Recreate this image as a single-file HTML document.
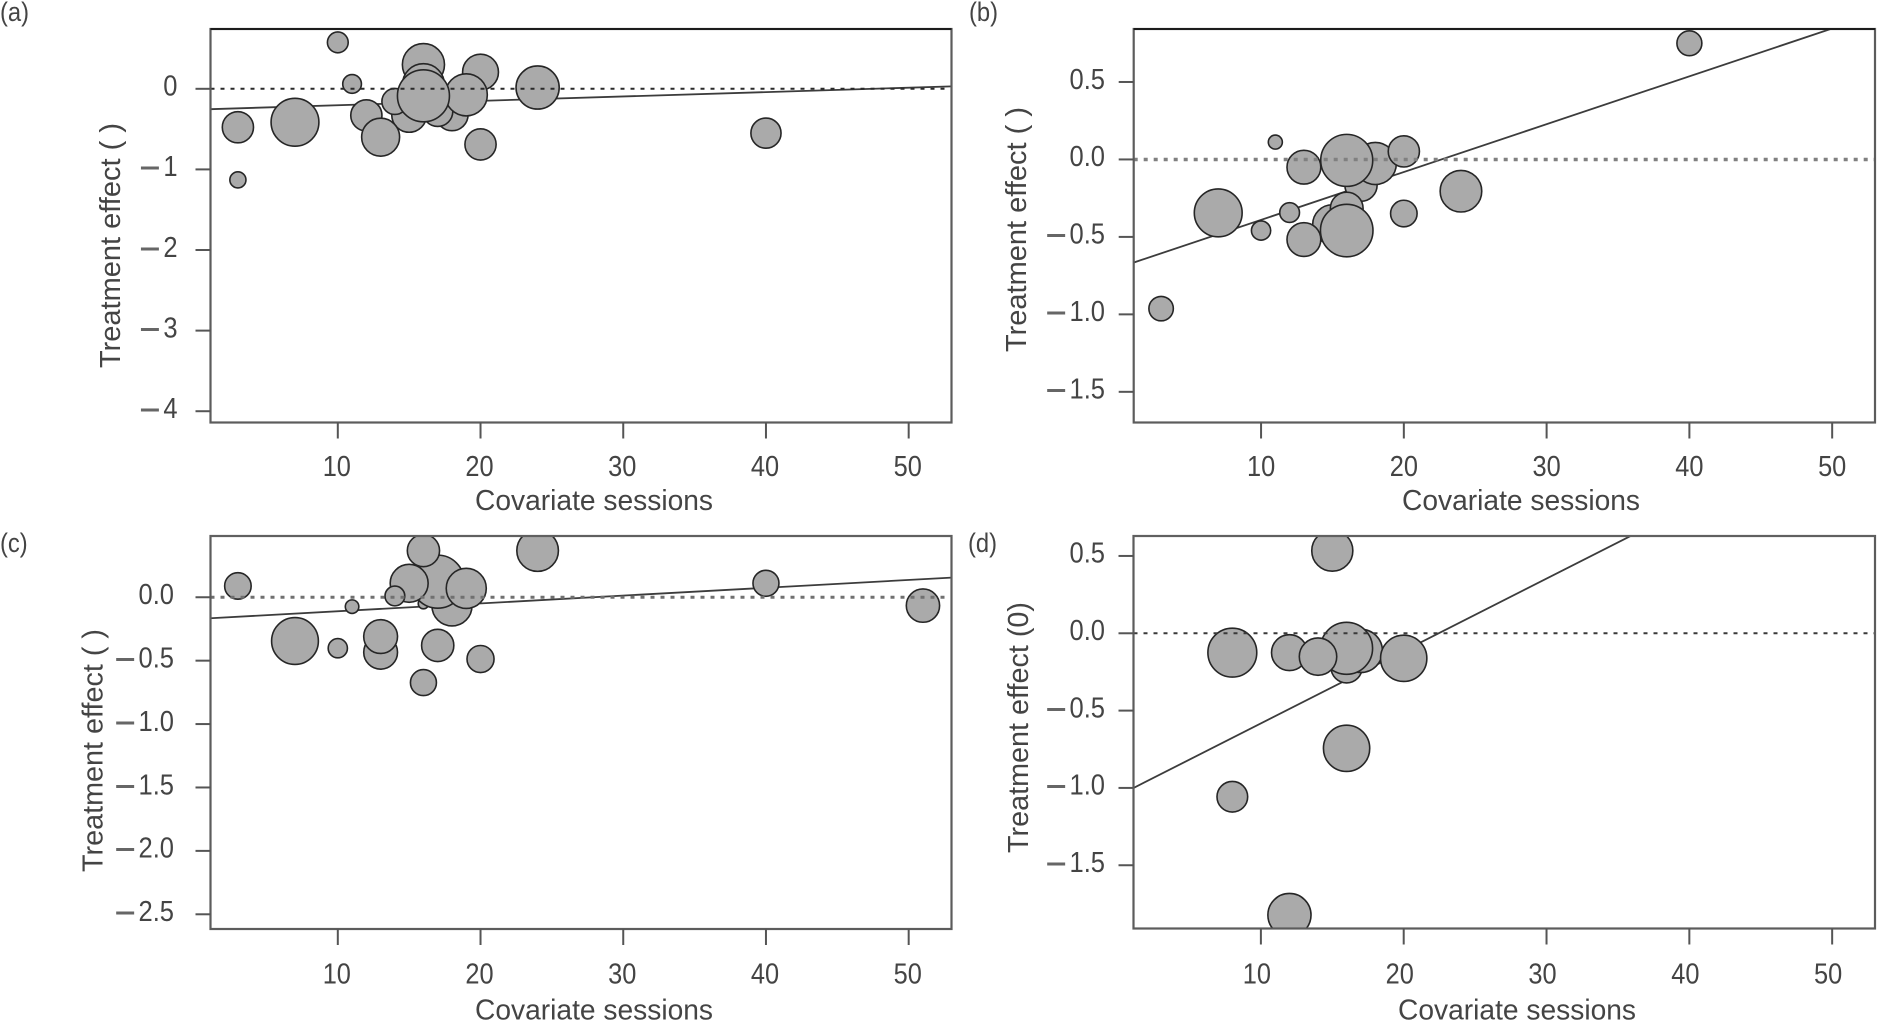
<!DOCTYPE html>
<html lang="en">
<head>
<meta charset="utf-8">
<title>Treatment effect versus covariate sessions</title>
<style>
html,body{margin:0;padding:0;background:#fff;}
svg{display:block;}
text{font-family:"Liberation Sans",sans-serif;fill:#444;}
</style>
</head>
<body>
<svg id="figure" xmlns="http://www.w3.org/2000/svg" width="1880" height="1022" viewBox="0 0 1880 1022"></svg>
<script>
/* ---------- panel (a) data ---------- */
const panelASessions = [3,3,7,10,11,40,24,20,20,12,15,14,13,18,17,16,16,19,16];
const panelAEffects = [-1.13,-0.477,-0.415,0.576,0.06,-0.55,0.016,-0.69,0.207,-0.33,-0.323,-0.157,-0.6,-0.32,-0.28,0.3,0.05,-0.075,-0.087];
const panelAWeights = [0.31,0.60,0.92,0.40,0.36,0.58,0.83,0.60,0.69,0.60,0.67,0.50,0.73,0.62,0.58,0.81,0.81,0.81,1.0];
const panelAFit = [-0.253,0.03];
const panelATicks = [0,-1,-2,-3,-4];
const panelATickLabels = ["0","\u22121","\u22122","\u22123","\u22124"];

/* ---------- panel (b) data ---------- */
const panelBSessions = [3,7,10,11,12,40,24,20,17,18,20,13,16,15,16,13,16];
const panelBEffects = [-0.963,-0.345,-0.459,0.112,-0.343,0.75,-0.205,-0.349,-0.166,-0.026,0.052,-0.05,-0.006,-0.42,-0.317,-0.517,-0.459];
const panelBWeights = [0.47,0.92,0.37,0.27,0.38,0.48,0.80,0.51,0.62,0.81,0.60,0.65,1.0,0.76,0.63,0.65,1.01];
const panelBFit = [-0.668,0.938];
const panelBTicks = [0.5,0,-0.5,-1,-1.5];
const panelBTickLabels = ["0.5","0.0","\u22120.5","\u22121.0","\u22121.5"];

/* ---------- panel (c) data ---------- */
const panelCSessions = [3,7,10,11,13,13,16,20,40,51,24,16,18,17,15,16,14,17,19];
const panelCEffects = [0.089,-0.345,-0.402,-0.074,-0.434,-0.31,-0.673,-0.487,0.11,-0.066,0.368,-0.05,-0.068,0.123,0.11,0.368,0.01,-0.38,0.07];
const panelCWeights = [0.51,0.90,0.37,0.26,0.65,0.65,0.50,0.52,0.50,0.64,0.80,0.20,0.77,1.02,0.73,0.62,0.38,0.62,0.77];
const panelCFit = [-0.166,0.155];
const panelCTicks = [0,-0.5,-1,-1.5,-2,-2.5];
const panelCTickLabels = ["0.0","\u22120.5","\u22121.0","\u22121.5","\u22122.0","\u22122.5"];

/* ---------- panel (d) data ---------- */
const panelDSessions = [8,8,12,12,15,16,16,17,16,14,20];
const panelDEffects = [-0.125,-1.057,-0.125,-1.822,0.534,-0.744,-0.22,-0.114,-0.097,-0.151,-0.162];
const panelDWeights = [0.94,0.59,0.69,0.83,0.79,0.89,0.60,0.83,1.0,0.72,0.89];
const panelDFit = [-1.004,1.43];
const panelDTicks = [0.5,0,-0.5,-1,-1.5];
const panelDTickLabels = ["0.5","0.0","\u22120.5","\u22121.0","\u22121.5"];

/* ---------- shared axis data ---------- */
const sessionTicks = [10,20,30,40,50];
const sessionTickLabels = ["10","20","30","40","50"];
const fitSessionRange = [1,53];
const referenceEffect = 0;

const NS = "http://www.w3.org/2000/svg";
const figure = document.getElementById("figure");
const maxRadius = 26;

function drawPanel(p) {
  const xScale = v => p.left + (v - p.xMin) / (p.xMax - p.xMin) * (p.right - p.left);
  const yScale = v => p.top + (p.yMax - v) / (p.yMax - p.yMin) * (p.bottom - p.top);

  const group = document.createElementNS(NS, "g");
  
  
  figure.appendChild(group);

  const clip = document.createElementNS(NS, "clipPath");
  clip.setAttribute("id", "clip-" + p.id);
  const clipRect = document.createElementNS(NS, "rect");
  clipRect.setAttribute("x", p.left);
  clipRect.setAttribute("y", p.top);
  clipRect.setAttribute("width", p.right - p.left);
  clipRect.setAttribute("height", p.bottom - p.top);
  clip.appendChild(clipRect);
  group.appendChild(clip);

  const plot = document.createElementNS(NS, "g");
  plot.setAttribute("clip-path", "url(#clip-" + p.id + ")");
  
  
  group.appendChild(plot);

  /* regression line */
  const fit = document.createElementNS(NS, "line");
  fit.setAttribute("x1", xScale(fitSessionRange[0]));
  fit.setAttribute("x2", xScale(fitSessionRange[1]));
  fit.setAttribute("y1", yScale(p.fit[0]));
  fit.setAttribute("y2", yScale(p.fit[1]));
  fit.setAttribute("stroke", "#3c3c3c");
  fit.setAttribute("stroke-width", "1.8");
  
  
  plot.appendChild(fit);

  /* study bubbles */
  p.sessions.forEach((s, i) => {
    const c = document.createElementNS(NS, "circle");
    c.setAttribute("cx", xScale(s));
    c.setAttribute("cy", yScale(p.effects[i]));
    c.setAttribute("r", p.weights[i] * maxRadius);
    c.setAttribute("fill", "#aaaaaa");
    c.setAttribute("stroke", "#262626");
    c.setAttribute("stroke-width", "1.6");
    
    
    plot.appendChild(c);
  });

  /* zero reference line */
  const zero = document.createElementNS(NS, "line");
  zero.setAttribute("x1", p.left);
  zero.setAttribute("x2", p.right);
  zero.setAttribute("y1", yScale(referenceEffect));
  zero.setAttribute("y2", yScale(referenceEffect));
  zero.setAttribute("stroke", p.dotColor);
  zero.setAttribute("stroke-width", p.dotWidth);
  zero.setAttribute("stroke-dasharray", "4 6");
  
  
  plot.appendChild(zero);

  /* frame */
  const frame = document.createElementNS(NS, "rect");
  frame.setAttribute("x", p.left);
  frame.setAttribute("y", p.top);
  frame.setAttribute("width", p.right - p.left);
  frame.setAttribute("height", p.bottom - p.top);
  frame.setAttribute("fill", "none");
  frame.setAttribute("stroke", "#5c5c5c");
  frame.setAttribute("stroke-width", "2.2");
  
  
  group.appendChild(frame);

  const topEdge = document.createElementNS(NS, "line");
  topEdge.setAttribute("x1", p.left);
  topEdge.setAttribute("x2", p.right);
  topEdge.setAttribute("y1", p.top);
  topEdge.setAttribute("y2", p.top);
  topEdge.setAttribute("stroke", p.topColor);
  topEdge.setAttribute("stroke-width", "2");
  
  
  group.appendChild(topEdge);

  /* x axis */
  sessionTicks.forEach((t, i) => {
    const tick = document.createElementNS(NS, "line");
    tick.setAttribute("x1", xScale(t));
    tick.setAttribute("x2", xScale(t));
    tick.setAttribute("y1", p.bottom);
    tick.setAttribute("y2", p.bottom + 16);
    tick.setAttribute("stroke", "#555");
    tick.setAttribute("stroke-width", "2");
    
    
    group.appendChild(tick);

    const label = document.createElementNS(NS, "text");
    label.setAttribute("transform", "translate(" + (xScale(t) + p.xLabelShift) + " " + p.xLabelBaseline + ") scale(0.875 1)");
    label.setAttribute("text-anchor", "middle");
    label.setAttribute("font-size", "29");
    label.textContent = sessionTickLabels[i];
    
    
    group.appendChild(label);
  });

  /* y axis */
  p.ticks.forEach((t, i) => {
    const tick = document.createElementNS(NS, "line");
    tick.setAttribute("x1", p.left - 15);
    tick.setAttribute("x2", p.left);
    tick.setAttribute("y1", yScale(t));
    tick.setAttribute("y2", yScale(t));
    tick.setAttribute("stroke", "#555");
    tick.setAttribute("stroke-width", "2");
    
    
    group.appendChild(tick);

    const label = document.createElementNS(NS, "text");
    label.setAttribute("transform", "translate(" + p.yLabelRight + " " + (yScale(t) + 6.8) + ") scale(0.88 1)");
    label.setAttribute("text-anchor", "end");
    label.setAttribute("font-size", "29");
    
    
    const str = p.tickLabels[i];
    if (str.charAt(0) === "\u2212") {
      const minus = document.createElementNS(NS, "tspan");
      minus.setAttribute("font-size", "42");
      minus.setAttribute("dy", "6");
      minus.setAttribute("style", "fill:#666");
      minus.textContent = "\u2212";
      label.appendChild(minus);
      const digits = document.createElementNS(NS, "tspan");
      digits.setAttribute("dx", "3");
      digits.setAttribute("dy", "-6");
      digits.textContent = str.slice(1);
      label.appendChild(digits);
    } else {
      label.textContent = str;
    }
    group.appendChild(label);
  });

  /* axis titles */
  const xTitle = document.createElementNS(NS, "text");
  xTitle.setAttribute("x", p.xTitleX);
  xTitle.setAttribute("y", p.xTitleBaseline);
  xTitle.setAttribute("font-size", "29");
  xTitle.setAttribute("textLength", "238");
  xTitle.setAttribute("lengthAdjust", "spacingAndGlyphs");
  xTitle.textContent = "Covariate sessions";
  
  
  group.appendChild(xTitle);

  const yTitle = document.createElementNS(NS, "text");
  yTitle.setAttribute("transform", "translate(" + p.yTitleX + " " + p.yTitleBottom + ") rotate(-90)");
  yTitle.setAttribute("font-size", "29");
  yTitle.setAttribute("textLength", p.yTitleLength);
  yTitle.setAttribute("lengthAdjust", "spacingAndGlyphs");
  yTitle.textContent = p.yTitle;
  
  
  group.appendChild(yTitle);

  const tag = document.createElementNS(NS, "text");
  tag.setAttribute("transform", "translate(" + p.tagX + " " + p.tagY + ") scale(0.88 1)");
  tag.setAttribute("font-size", "27");
  tag.textContent = "(" + p.id + ")";
  
  
  group.appendChild(tag);
}

drawPanel({id:"a",left:210.5,right:951.5,top:29,bottom:422.5,xMin:1.08,xMax:53,yMin:-4.14,yMax:0.742,
  sessions:panelASessions,effects:panelAEffects,weights:panelAWeights,fit:panelAFit,ticks:panelATicks,tickLabels:panelATickLabels,
  dotColor:"#2a2a2a",dotWidth:2,topColor:"#1c1c1c",xLabelShift:-1,xLabelBaseline:476,yLabelRight:177.5,
  xTitleX:475,xTitleBaseline:510,yTitle:"Treatment effect ( )",yTitleX:120,yTitleBottom:368,yTitleLength:245,tagX:0,tagY:21});
drawPanel({id:"b",left:1133.7,right:1875,top:29,bottom:422.5,xMin:1.08,xMax:53,yMin:-1.698,yMax:0.842,
  sessions:panelBSessions,effects:panelBEffects,weights:panelBWeights,fit:panelBFit,ticks:panelBTicks,tickLabels:panelBTickLabels,
  dotColor:"#808080",dotWidth:3.5,topColor:"#1c1c1c",xLabelShift:0,xLabelBaseline:476,yLabelRight:1105,
  xTitleX:1402,xTitleBaseline:510,yTitle:"Treatment effect ( )",yTitleX:1026,yTitleBottom:352,yTitleLength:245,tagX:969,tagY:21});
drawPanel({id:"c",left:210.5,right:951.5,top:536,bottom:929,xMin:1.08,xMax:53,yMin:-2.616,yMax:0.483,
  sessions:panelCSessions,effects:panelCEffects,weights:panelCWeights,fit:panelCFit,ticks:panelCTicks,tickLabels:panelCTickLabels,
  dotColor:"#707070",dotWidth:3,topColor:"#606060",xLabelShift:-1,xLabelBaseline:983.5,yLabelRight:174,
  xTitleX:475,xTitleBaseline:1019.5,yTitle:"Treatment effect ( )",yTitleX:102.5,yTitleBottom:872,yTitleLength:243,tagX:0,tagY:552});
drawPanel({id:"d",left:1133.5,right:1875,top:536,bottom:928.5,xMin:1.08,xMax:53,yMin:-1.909,yMax:0.629,
  sessions:panelDSessions,effects:panelDEffects,weights:panelDWeights,fit:panelDFit,ticks:panelDTicks,tickLabels:panelDTickLabels,
  dotColor:"#3a3a3a",dotWidth:2,topColor:"#606060",xLabelShift:-4,xLabelBaseline:983.5,yLabelRight:1105,
  xTitleX:1398,xTitleBaseline:1019.5,yTitle:"Treatment effect (0)",yTitleX:1028,yTitleBottom:853,yTitleLength:251,tagX:968,tagY:552});
</script>
</body>
</html>
